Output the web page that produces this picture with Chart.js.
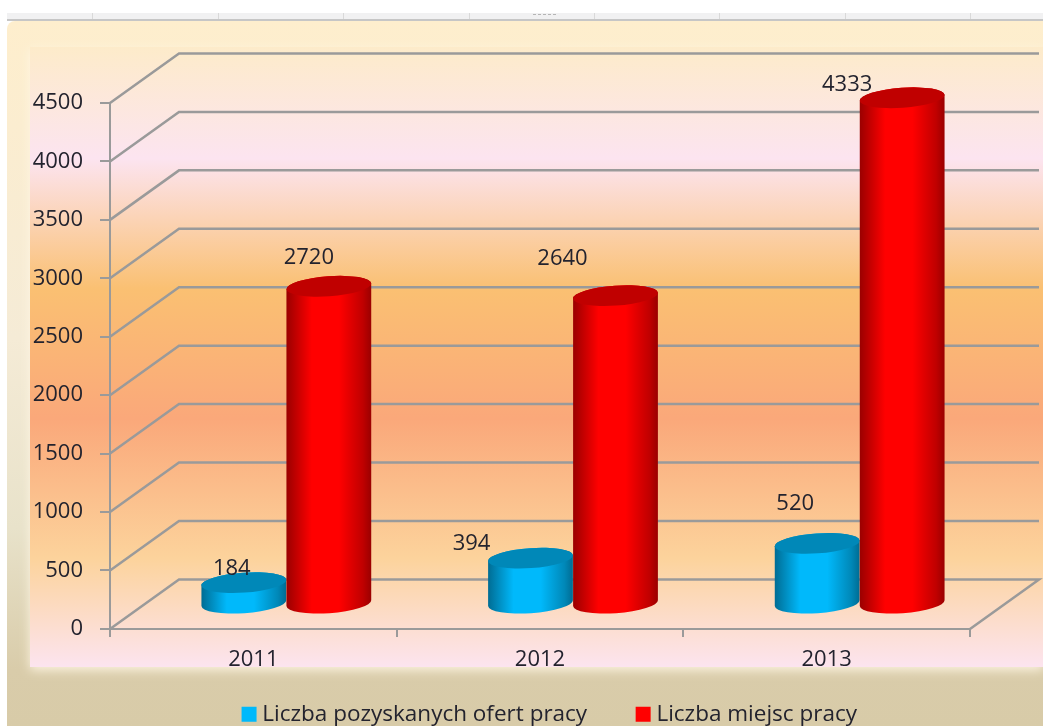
<!DOCTYPE html>
<html lang="pl">
<head>
<meta charset="utf-8">
<title>Liczba ofert i miejsc pracy</title>
<script src="https://cdn.jsdelivr.net/npm/chart.js@4/dist/chart.umd.min.js"></script>
<style>
  html, body { margin: 0; padding: 0; background: #fff; overflow: hidden; }
  canvas { display: block; filter: blur(0.6px); }
</style>
</head>
<body>
<canvas id="chart1" width="1043" height="726"></canvas>
<script>
const categories = ['2011', '2012', '2013'];
const ofertyValues = [184, 394, 520];
const miejscaValues = [2720, 2640, 4333];
const seriesNames = ['Liczba pozyskanych ofert pracy', 'Liczba miejsc pracy'];

// labels were dragged by hand in the original, so they sit at odd spots
const ofertyLabelShift = [[-12, -14], [-59, -14], [-22, -40]];
const miejscaLabelShift = [[-20, -29], [-53, -37], [-55, -13]];

const DEPTH_X = 69;
const DEPTH_Y = -49.5;
const BAR_SHIFT_X = 33;
const LEGEND_PADDING = 54;
const GRID_COLOR = '#9a9a9a';
const TEXT_COLOR = '#23232e';
const FONT_FAMILY = '"Open Sans", sans-serif';
const FONT_SIZE = 22;

class CylinderElement extends Chart.BarElement {
  static id = 'cylinder';

  draw(ctx) {
    const { x, y, base, width, options } = this.getProps(['x', 'y', 'base', 'width', 'options']);
    const cx = x + BAR_SHIFT_X;
    const top = y + DEPTH_Y / 2;
    const bottom = base + DEPTH_Y / 2;
    const rx = width / 2;
    const ry = 10;
    const tilt = -0.07;
    const edge = Chart.helpers.color(options.borderColor).darken(0.2).rgbString();

    const body = ctx.createLinearGradient(cx - rx, 0, cx + rx, 0);
    body.addColorStop(0, edge);
    body.addColorStop(0.3, options.backgroundColor);
    body.addColorStop(0.62, options.backgroundColor);
    body.addColorStop(0.9, options.borderColor);
    body.addColorStop(1, edge);

    ctx.save();
    ctx.beginPath();
    ctx.ellipse(cx, bottom, rx, ry, tilt, 0, Math.PI);
    ctx.ellipse(cx, top, rx, ry, tilt, Math.PI, Math.PI * 2);
    ctx.closePath();
    ctx.fillStyle = body;
    ctx.fill();

    ctx.beginPath();
    ctx.ellipse(cx, top, rx, ry, tilt, 0, Math.PI * 2);
    ctx.fillStyle = options.borderColor;
    ctx.fill();
    ctx.restore();
  }
}

class CylinderController extends Chart.BarController {
  static id = 'cylinder';
  static defaults = { ...Chart.BarController.defaults, dataElementType: 'cylinder' };
}

Chart.register(CylinderElement, CylinderController);

function drawFrame(chart) {
  const ctx = chart.ctx;
  const w = chart.width;
  const h = chart.height;

  ctx.save();
  // worksheet header strip behind the chart
  ctx.fillStyle = '#f1f1f2';
  ctx.fillRect(7, 13, w - 7, 7);
  ctx.fillStyle = '#d9d9d9';
  [92, 218, 343, 469, 594, 719, 845, 970].forEach(function (px) {
    ctx.fillRect(px, 13, 1, 7);
  });
  ctx.fillStyle = '#b5b5b5';
  [533, 538, 543, 548, 553].forEach(function (px) {
    ctx.fillRect(px, 14, 3, 1);
  });
  ctx.fillStyle = '#c6c6c6';
  ctx.fillRect(7, 19, w - 7, 2);

  const outer = ctx.createLinearGradient(0, 20, 0, h);
  outer.addColorStop(0, '#feeecd');
  outer.addColorStop(0.45, '#f5ebd6');
  outer.addColorStop(0.72, '#e8e2ca');
  outer.addColorStop(0.92, '#d9ccaa');
  outer.addColorStop(1, '#d8cba8');
  ctx.beginPath();
  ctx.roundRect(7, 21, w - 7, h - 21, [8, 0, 0, 0]);
  ctx.fillStyle = outer;
  ctx.fill();

  const inner = ctx.createLinearGradient(0, 47, 0, 667);
  inner.addColorStop(0, '#fdebca');
  inner.addColorStop(0.18, '#fce4f0');
  inner.addColorStop(0.39, '#fac072');
  inner.addColorStop(0.6, '#faa87a');
  inner.addColorStop(0.825, '#fcd39c');
  inner.addColorStop(1, '#fce4ef');
  ctx.shadowColor = 'rgba(255, 246, 228, 0.95)';
  ctx.shadowBlur = 10;
  ctx.shadowOffsetY = 3;
  ctx.fillStyle = inner;
  ctx.fillRect(30, 47, w - 30, 620);
  ctx.restore();
}

function drawWalls(chart) {
  const ctx = chart.ctx;
  const yScale = chart.scales.y;
  const area = chart.chartArea;

  ctx.save();
  ctx.strokeStyle = GRID_COLOR;
  ctx.lineWidth = 2.5;
  yScale.ticks.forEach(function (tick) {
    const py = yScale.getPixelForValue(tick.value);
    ctx.beginPath();
    ctx.moveTo(area.left, py);
    ctx.lineTo(area.left + DEPTH_X, py + DEPTH_Y);
    ctx.lineTo(area.right + DEPTH_X, py + DEPTH_Y);
    if (tick.value === 0) {
      ctx.lineTo(area.right, py);
    }
    ctx.stroke();
  });
  ctx.restore();
}

function drawValueLabels(chart) {
  const ctx = chart.ctx;
  const shifts = [ofertyLabelShift, miejscaLabelShift];

  ctx.save();
  ctx.font = FONT_SIZE + 'px ' + FONT_FAMILY;
  ctx.fillStyle = TEXT_COLOR;
  ctx.textAlign = 'center';
  ctx.textBaseline = 'middle';
  chart.data.datasets.forEach(function (dataset, i) {
    chart.getDatasetMeta(i).data.forEach(function (bar, j) {
      const px = bar.x + BAR_SHIFT_X + shifts[i][j][0];
      const py = bar.y + DEPTH_Y / 2 + shifts[i][j][1];
      ctx.fillText(String(dataset.data[j]), px, py);
    });
  });
  ctx.restore();
}

const scenePlugin = {
  id: 'scene',
  beforeDraw: drawFrame,
  beforeDatasetsDraw: function (chart) {
    drawWalls(chart);
    // left series first so the red cylinder ends up on top of the blue one
    chart.data.datasets.forEach(function (dataset, i) {
      chart.getDatasetMeta(i).controller.draw();
    });
    drawValueLabels(chart);
    return false;
  },
  afterLayout: function (chart) {
    chart.legend.left += 12;
    chart.legend.right += 12;
    chart.legend.top = 703 - LEGEND_PADDING;
    chart.legend.bottom = 726;
    // the axis box is clipped to its bottom edge, year labels need the room
    chart.scales.x.bottom = 680;
  }
};

new Chart(document.getElementById('chart1'), {
  type: 'cylinder',
  plugins: [scenePlugin],
  data: {
    labels: categories,
    datasets: [
      {
        label: seriesNames[0],
        data: ofertyValues,
        backgroundColor: '#00b9fb',
        borderColor: '#0088b8'
      },
      {
        label: seriesNames[1],
        data: miejscaValues,
        backgroundColor: '#ff0000',
        borderColor: '#c00000'
      }
    ]
  },
  options: {
    responsive: false,
    animation: false,
    categoryPercentage: 0.593,
    barPercentage: 1,
    layout: {
      padding: { left: 30, right: 73, top: 103, bottom: 10.3 }
    },
    scales: {
      x: {
        type: 'category',
        offset: true,
        afterFit: function (scale) { scale.height = 0.3; },
        grid: { drawOnChartArea: false, offset: true, color: GRID_COLOR, lineWidth: 2, tickLength: 8 },
        border: { color: GRID_COLOR, width: 2 },
        ticks: { color: TEXT_COLOR, padding: 10, font: { family: FONT_FAMILY, size: FONT_SIZE } }
      },
      y: {
        type: 'linear',
        min: 0,
        max: 4500,
        afterFit: function (scale) { scale.width = 80; },
        grid: { drawOnChartArea: false, color: GRID_COLOR, lineWidth: 2, tickLength: 10 },
        border: { color: GRID_COLOR, width: 2 },
        ticks: {
          stepSize: 500,
          color: TEXT_COLOR,
          padding: 17,
          font: { family: FONT_FAMILY, size: FONT_SIZE },
          callback: function (value) { return String(value); }
        }
      }
    },
    plugins: {
      title: { display: false },
      tooltip: { enabled: false },
      legend: {
        position: 'bottom',
        fullSize: false,
        labels: {
          usePointStyle: true,
          pointStyle: 'rect',
          boxWidth: 4,
          boxHeight: 15,
          padding: LEGEND_PADDING,
          color: TEXT_COLOR,
          font: { family: FONT_FAMILY, size: 22.5 }
        }
      }
    }
  }
});
</script>
</body>
</html>
